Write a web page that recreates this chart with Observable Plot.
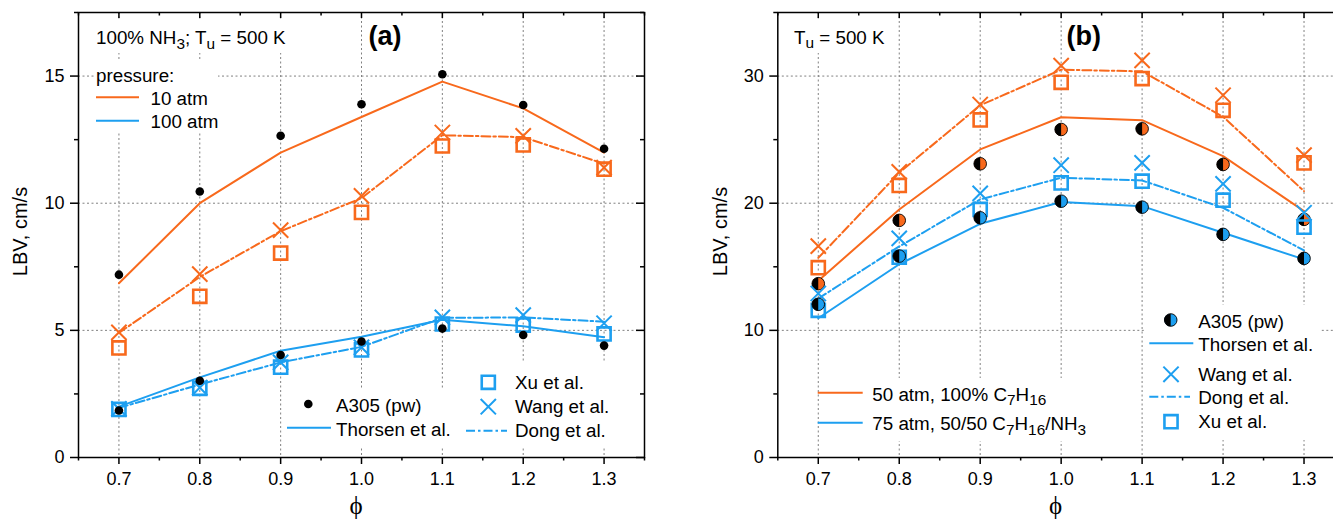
<!DOCTYPE html>
<html>
<head>
<meta charset="utf-8">
<script src="https://cdn.jsdelivr.net/npm/d3@7"></script>
<script src="https://cdn.jsdelivr.net/npm/@observablehq/plot@0.6"></script>
<style>
  html, body { margin: 0; padding: 0; background: #fff; overflow: hidden; }
  #wrap { display: flex; width: 1333px; height: 519px; overflow: hidden; }
  #wrap svg { display: block; flex: none; }
</style>
</head>
<body>
<div id="wrap"></div>
<script>
// Equivalence ratio
const phi = [0.7, 0.8, 0.9, 1.0, 1.1, 1.2, 1.3];
const phiMinor = [0.65, 0.75, 0.85, 0.95, 1.05, 1.15, 1.25, 1.35];

// (a) 100% NH3, Tu = 500 K — 10 atm
const a10_a305    = [7.19, 10.46, 12.65, 13.89, 15.07, 13.86, 12.14];
const a10_thorsen = [6.85, 10.0, 11.99, 13.39, 14.78, 13.73, 11.99];
const a10_wang    = [4.92, 7.21, 8.94, 10.29, 12.78, 12.65, 11.40];
const a10_dong    = [4.9, 7.1, 8.9, 10.2, 12.67, 12.6, 11.55];
const a10_xu      = [4.31, 6.34, 8.04, 9.64, 12.25, 12.29, 11.34];
// (a) 100 atm
const a100_a305    = [1.85, 3.02, 4.03, 4.56, 5.07, 4.82, 4.40];
const a100_thorsen = [2.0, 3.15, 4.20, 4.75, 5.42, 5.16, 4.73];
const a100_wang    = [1.91, 2.75, 3.74, 4.33, 5.51, 5.60, 5.28];
const a100_dong    = [1.95, 2.87, 3.74, 4.35, 5.49, 5.51, 5.34];
const a100_xu      = [1.89, 2.72, 3.55, 4.23, 5.25, 5.21, 4.86];

// (b) Tu = 500 K — 50 atm, 100% C7H16
const b50_a305    = [13.67, 18.65, 23.1, 25.8, 25.85, 23.05, 18.73];
const b50_thorsen = [13.9, 19.51, 24.23, 26.76, 26.53, 23.7, 19.38];
const b50_wang    = [16.63, 22.47, 27.76, 30.82, 31.24, 28.49, 23.78];
const b50_dong    = [15.7, 22.4, 27.7, 30.5, 30.37, 26.8, 20.95];
const b50_xu      = [14.93, 21.4, 26.55, 29.51, 29.8, 27.31, 23.17];
// (b) 75 atm, 50/50 C7H16/NH3
const b75_a305    = [12.05, 15.84, 18.85, 20.16, 19.69, 17.55, 15.66];
const b75_thorsen = [10.95, 15.2, 18.38, 20.09, 19.77, 17.68, 15.58];
const b75_wang    = [12.9, 17.23, 20.77, 22.99, 23.17, 21.52, 19.25];
const b75_dong    = [12.5, 16.6, 20.3, 22.0, 21.79, 19.64, 16.29];
const b75_xu      = [11.58, 15.75, 19.51, 21.6, 21.73, 20.24, 18.12];

const aYMajor = [0, 5, 10, 15];
const aYMinor = [2.5, 7.5, 12.5, 17.5];
const bYMajor = [0, 10, 20, 30];
const bYMinor = [5, 15, 25, 35];

const ORANGE = "#F8691C";
const BLUE = "#1D9FF0";
const GRID = "#808080";
const FONT = "'Liberation Sans', Arial, Helvetica, sans-serif";
const DASHDOT = "9,3,2.5,3";
const LEG = 18.8;

const rows = vals => phi.map((p, i) => ({phi: p, v: vals[i]}));

// Left half of a circle, used to draw the half-black A305 markers
const leftHalf = {
  draw(ctx, size) {
    const r = Math.sqrt(size / Math.PI);
    ctx.moveTo(0, -r);
    ctx.arc(0, 0, r, -Math.PI / 2, Math.PI / 2, true);
    ctx.closePath();
  }
};

const H = 519, MT = 12, MB = 62;

function seriesMarks(set, color, halfDots) {
  const m = [
    Plot.dot(rows(set.xu), {x: "phi", y: "v", symbol: "square", r: 7.4, stroke: color, strokeWidth: 2.6, fill: "none"}),
    Plot.dot(rows(set.wang), {x: "phi", y: "v", symbol: "times", r: 7.0, stroke: color, strokeWidth: 2}),
    Plot.line(rows(set.dong), {x: "phi", y: "v", stroke: color, strokeWidth: 2, strokeDasharray: DASHDOT}),
    Plot.line(rows(set.thorsen), {x: "phi", y: "v", stroke: color, strokeWidth: 2})
  ];
  if (halfDots) {
    m.push(Plot.dot(rows(set.a305), {x: "phi", y: "v", r: 6.3, fill: color, stroke: "black", strokeWidth: 0.9}));
    m.push(Plot.dot(rows(set.a305), {x: "phi", y: "v", r: 6.3, symbol: leftHalf, fill: "black"}));
  } else {
    m.push(Plot.dot(rows(set.a305), {x: "phi", y: "v", r: 4.3, fill: "black"}));
  }
  return m;
}

function panel({width, ml, mr, yDomain, yMajor, yMinor, sets, halfDots}) {
  const pw = width - ml - mr, ph = H - MT - MB;
  return Plot.plot({
    width, height: H,
    marginTop: MT, marginBottom: MB, marginLeft: ml, marginRight: mr,
    style: {fontFamily: FONT, background: "white", color: "black", overflow: "visible"},
    x: {domain: [0.65, 1.35]},
    y: {domain: yDomain},
    marks: [
      Plot.gridX(phi, {stroke: GRID, strokeOpacity: 1, strokeWidth: 1, strokeDasharray: "2,2.5"}),
      Plot.gridY(yMajor.filter(d => d > 0), {stroke: GRID, strokeOpacity: 1, strokeWidth: 1, strokeDasharray: "2,2.5"}),
      ...sets.flatMap(s => seriesMarks(s, s.color, halfDots)),
      Plot.axisX(phi, {tickSize: 7, tickPadding: 8, strokeWidth: 1.5, fontSize: 18, tickFormat: d => d.toFixed(1), label: null}),
      Plot.axisX(phiMinor, {tickSize: 3.5, strokeWidth: 1.5, text: null, label: null}),
      Plot.axisY(yMajor, {tickSize: 8, tickPadding: 6, strokeWidth: 1.5, fontSize: 18, label: null}),
      Plot.axisY(yMinor, {tickSize: 4, strokeWidth: 1.5, text: null, label: null}),
      // mirrored ticks on the top and right edges, pointing inward
      Plot.ruleX(phi, {insetBottom: ph - 6, stroke: "black", strokeWidth: 1.5}),
      Plot.ruleX(phiMinor, {insetBottom: ph - 3.5, stroke: "black", strokeWidth: 1.5}),
      Plot.ruleY(yMajor, {insetLeft: pw - 8, stroke: "black", strokeWidth: 1.5}),
      Plot.ruleY(yMinor, {insetLeft: pw - 4, stroke: "black", strokeWidth: 1.5}),
      Plot.frame({stroke: "black", strokeWidth: 1.5})
    ]
  });
}

// text with optional subscripts: parts = [[string, isSub], ...]
function rich(g, x, y, parts, size, extra = {}) {
  const t = g.append("text").attr("x", x).attr("y", y).attr("text-anchor", "start")
    .attr("font-size", size).attr("font-family", FONT).attr("fill", "black");
  for (const k in extra) t.attr(k, extra[k]);
  let shift = 0;
  for (const [s, sub] of parts) {
    const want = sub ? size * 0.26 : 0;
    t.append("tspan").attr("dy", want - shift)
      .attr("font-size", sub ? size * 0.82 : size).text(s);
    shift = want;
  }
  return t;
}
function box(g, x0, y0, x1, y1) {
  g.append("rect").attr("x", x0).attr("y", y0).attr("width", x1 - x0).attr("height", y1 - y0).attr("fill", "white");
}
function sample(g, x0, x1, y, color, dash) {
  g.append("line").attr("x1", x0).attr("x2", x1).attr("y1", y).attr("y2", y)
    .attr("stroke", color).attr("stroke-width", 2).attr("stroke-dasharray", dash || null);
}
function symbol(g, type, r, x, y, attrs) {
  const p = g.append("path").attr("transform", `translate(${x},${y})`)
    .attr("d", d3.symbol(type, Math.PI * r * r)());
  for (const k in attrs) p.attr(k, attrs[k]);
}
function axisTitles(g, chart, yLabelX) {
  const xs = chart.scale("x");
  g.append("text").attr("transform", `translate(${yLabelX},${(MT + H - MB) / 2 - 3}) rotate(-90)`)
    .attr("text-anchor", "middle").attr("font-size", 20).attr("font-family", FONT).text("LBV, cm/s");
  g.append("text").attr("x", xs.apply(1.0) - 5).attr("y", 514).attr("text-anchor", "middle")
    .attr("font-size", 25).attr("font-family", "'Liberation Serif', 'DejaVu Serif', serif").text("\u03D5");
}
function panelTag(g, x, label) {
  g.append("text").attr("x", x).attr("y", 45).attr("text-anchor", "middle")
    .attr("font-size", 27).attr("font-weight", "bold").attr("font-family", FONT).text(label);
}

const wrap = document.getElementById("wrap");

// ---------- panel (a) ----------
const chartA = panel({
  width: 666, ml: 78, mr: 22, yDomain: [0, 17.5], yMajor: aYMajor, yMinor: aYMinor, halfDots: false,
  sets: [
    {color: ORANGE, a305: a10_a305, thorsen: a10_thorsen, wang: a10_wang, dong: a10_dong, xu: a10_xu},
    {color: BLUE, a305: a100_a305, thorsen: a100_thorsen, wang: a100_wang, dong: a100_dong, xu: a100_xu}
  ]
});
wrap.appendChild(chartA);
{
  const g = d3.select(chartA).append("g");
  axisTitles(g, chartA, 27);
  box(g, 92, 19, 294, 53);
  rich(g, 96, 44, [["100% NH"], ["3", true], ["; T"], ["u", true], [" = 500 K"]], LEG);
  panelTag(g, 385, "(a)");
  box(g, 95, 60, 218, 133);
  rich(g, 96, 81.5, [["pressure:"]], LEG);
  sample(g, 96, 139, 97.3, ORANGE);
  rich(g, 150.5, 104.5, [["10 atm"]], LEG);
  sample(g, 96, 139, 120.7, BLUE);
  rich(g, 150.5, 128, [["100 atm"]], LEG);
  box(g, 283, 388, 458, 446);
  box(g, 462, 363, 640, 446);
  g.append("circle").attr("cx", 308.3).attr("cy", 404).attr("r", 4.3).attr("fill", "black");
  rich(g, 336, 412, [["A305 (pw)"]], LEG);
  sample(g, 287, 331, 427.7, BLUE);
  rich(g, 336, 435.5, [["Thorsen et al."]], LEG);
  symbol(g, d3.symbolSquare, 7.4, 488.3, 382.3, {fill: "none", stroke: BLUE, "stroke-width": 2.6});
  rich(g, 515, 389.3, [["Xu et al."]], LEG);
  symbol(g, d3.symbolTimes, 7.0, 488.3, 406.7, {fill: "none", stroke: BLUE, "stroke-width": 2});
  rich(g, 515, 413.3, [["Wang et al."]], LEG);
  sample(g, 466, 507, 430.7, BLUE, DASHDOT);
  rich(g, 515, 436.7, [["Dong et al."]], LEG);
}

// ---------- panel (b) ----------
const chartB = panel({
  width: 690, ml: 111.3, mr: 12, yDomain: [0, 35], yMajor: bYMajor, yMinor: bYMinor, halfDots: true,
  sets: [
    {color: ORANGE, a305: b50_a305, thorsen: b50_thorsen, wang: b50_wang, dong: b50_dong, xu: b50_xu},
    {color: BLUE, a305: b75_a305, thorsen: b75_thorsen, wang: b75_wang, dong: b75_dong, xu: b75_xu}
  ]
});
wrap.appendChild(chartB);
{
  const g = d3.select(chartB).append("g");
  const ox = -666; // panel (b) svg starts at x = 666 on the page
  axisTitles(g, chartB, 727 + ox);
  box(g, 790 + ox, 19, 894 + ox, 53);
  rich(g, 794 + ox, 43.5, [["T"], ["u", true], [" = 500 K"]], LEG);
  panelTag(g, 1083.7 + ox, "(b)");
  box(g, 866 + ox, 378, 1098 + ox, 441);
  sample(g, 817.7 + ox, 862.7 + ox, 392.7, ORANGE);
  rich(g, 872.3 + ox, 400.5, [["50 atm, 100% C"], ["7", true], ["H"], ["16", true]], LEG);
  sample(g, 817.7 + ox, 862.7 + ox, 422.7, BLUE);
  rich(g, 872.3 + ox, 430, [["75 atm, 50/50 C"], ["7", true], ["H"], ["16", true], ["/NH"], ["3", true]], LEG);
  box(g, 1146 + ox, 305, 1320 + ox, 440);
  g.append("circle").attr("cx", 1170.7 + ox).attr("cy", 320).attr("r", 6.3)
    .attr("fill", BLUE).attr("stroke", "black").attr("stroke-width", 0.9);
  symbol(g, leftHalf, 6.3, 1170.7 + ox, 320, {fill: "black"});
  rich(g, 1198.3 + ox, 328.3, [["A305 (pw)"]], LEG);
  sample(g, 1149.3 + ox, 1193.3 + ox, 343.3, BLUE);
  rich(g, 1198.3 + ox, 350.7, [["Thorsen et al."]], LEG);
  symbol(g, d3.symbolTimes, 7.0, 1171 + ox, 374.3, {fill: "none", stroke: BLUE, "stroke-width": 2});
  rich(g, 1198.3 + ox, 380.7, [["Wang et al."]], LEG);
  sample(g, 1149.3 + ox, 1190 + ox, 396.7, BLUE, DASHDOT);
  rich(g, 1198.3 + ox, 404, [["Dong et al."]], LEG);
  symbol(g, d3.symbolSquare, 7.4, 1171 + ox, 421.7, {fill: "none", stroke: BLUE, "stroke-width": 2.6});
  rich(g, 1198.3 + ox, 428.3, [["Xu et al."]], LEG);
}
</script>
</body>
</html>
